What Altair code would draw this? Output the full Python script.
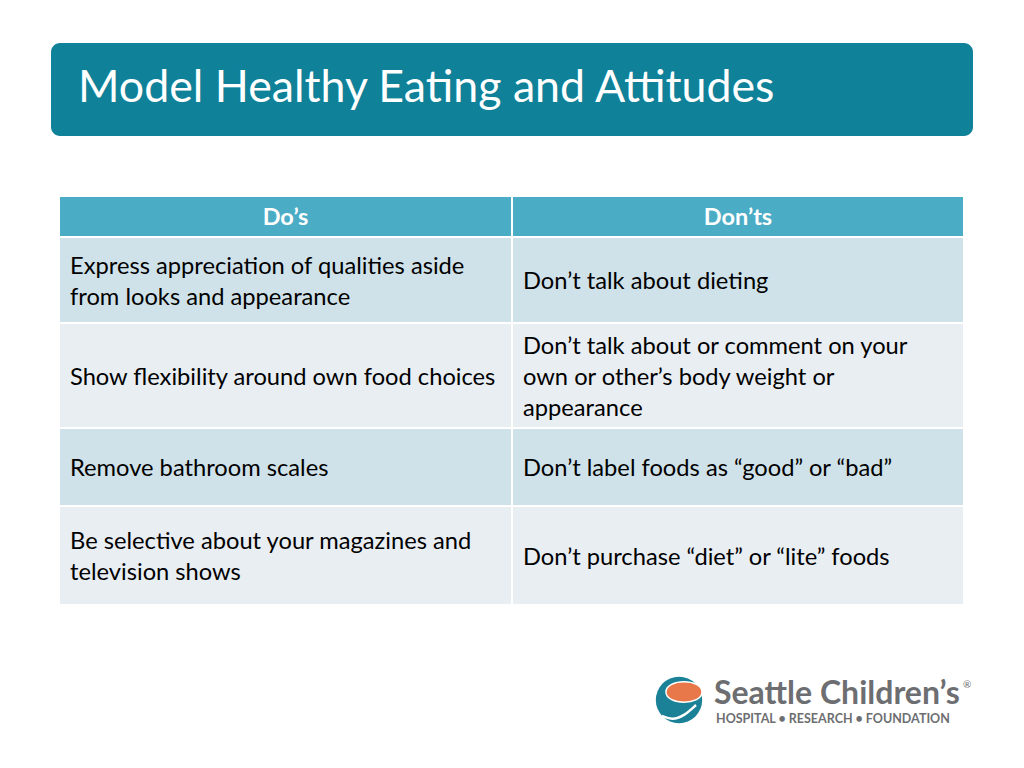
import altair as alt
import pandas as pd

# ---------------- content ----------------
title = "Model Healthy Eating and Attitudes"
headers = ["Do’s", "Don’ts"]
dos = [
    ["Express appreciation of qualities aside", "from looks and appearance"],
    ["Show flexibility around own food choices"],
    ["Remove bathroom scales"],
    ["Be selective about your magazines and", "television shows"],
]
donts = [
    ["Don’t talk about dieting"],
    ["Don’t talk about or comment on your", "own or other’s body weight or", "appearance"],
    ["Don’t label foods as “good” or “bad”"],
    ["Don’t purchase “diet” or “lite” foods"],
]
logo_name = "Seattle Children’s"
logo_tag = "HOSPITAL • RESEARCH • FOUNDATION"

# ---------------- layout (page pixels) ----------------
col_edges = [59, 512, 964]
row_edges = [196, 237, 323, 428, 506, 605]
text_pad = 11
line_h = 31
FONT = "Lato"

HEAD_C = "#4BACC6"
BAND = ["#D0E2E9", "#E9EEF3"]
TITLE_C = "#0F8199"
GRAY = "#6D6E71"

xs = alt.Scale(domain=[8, 1016], nice=False, zero=False)
ys = alt.Scale(domain=[760, 8], nice=False, zero=False)
X = lambda f: alt.X(f, type="quantitative", scale=xs, axis=None)
Y = lambda f: alt.Y(f, type="quantitative", scale=ys, axis=None)

# cells
cells = []
for c in range(2):
    cells.append(dict(x=col_edges[c], x2=col_edges[c + 1], y=row_edges[0], y2=row_edges[1], fill=HEAD_C))
    for r in range(4):
        cells.append(dict(x=col_edges[c], x2=col_edges[c + 1], y=row_edges[r + 1], y2=row_edges[r + 2],
                          fill=BAND[r % 2]))
cells_df = pd.DataFrame(cells)

cell_layer = alt.Chart(cells_df).mark_rect(stroke="white", strokeWidth=2).encode(
    x=X("x"), x2="x2", y=Y("y"), y2="y2",
    color=alt.Color("fill:N", scale=None),
)

# header text
head_df = pd.DataFrame(dict(
    label=headers,
    x=[(col_edges[0] + col_edges[1]) / 2, (col_edges[1] + col_edges[2]) / 2],
    y=[(row_edges[0] + row_edges[1]) / 2] * 2,
))
head_layer = alt.Chart(head_df).mark_text(
    font=FONT, fontSize=23.5, fontWeight="bold", color="white", align="center", baseline="middle", dy=1
).encode(x=X("x"), y=Y("y"), text="label:N")

# body text
rows = []
for c, col in enumerate([dos, donts]):
    for r, lines in enumerate(col):
        mid = (row_edges[r + 1] + row_edges[r + 2]) / 2
        n = len(lines)
        for i, ln in enumerate(lines):
            rows.append(dict(label=ln, x=col_edges[c] + text_pad,
                             y=mid + (i - (n - 1) / 2) * line_h))
body_df = pd.DataFrame(rows)
body_layer = alt.Chart(body_df).mark_text(
    font=FONT, fontSize=23.7, color="black", align="left", baseline="middle", dy=2
).encode(x=X("x"), y=Y("y"), text="label:N")

# title bar
bar_df = pd.DataFrame([dict(x=51, x2=973, y=43, y2=136)])
bar_layer = alt.Chart(bar_df).mark_rect(color=TITLE_C, cornerRadius=9).encode(
    x=X("x"), x2="x2", y=Y("y"), y2="y2")
title_df = pd.DataFrame([dict(label=title, x=78, y=102)])
title_layer = alt.Chart(title_df).mark_text(
    font=FONT, fontSize=44.7, color="white", align="left", baseline="alphabetic"
).encode(x=X("x"), y=Y("y"), text="label:N")

# logo
circ_df = pd.DataFrame([dict(x=679, y=700)])
circ_layer = alt.Chart(circ_df).mark_point(
    shape="circle", filled=True, size=2150, color="#1A8197", opacity=1
).encode(x=X("x"), y=Y("y"))
fish_df = pd.DataFrame([dict(x=684, y=692)])
fish_layer = alt.Chart(fish_df).mark_point(
    shape="M -1 0 C -1 -0.75 1 -0.75 1 0 C 1 0.75 -1 0.75 -1 0 Z",
    filled=True, size=1300, color="#E8784A", opacity=1, stroke="white", strokeWidth=1.5
).encode(x=X("x"), y=Y("y"))
wave_df = pd.DataFrame(dict(x=[662, 672, 684, 696], y=[716, 720, 716, 705]))
wave_layer = alt.Chart(wave_df).mark_line(
    color="white", strokeWidth=2.5, interpolate="basis"
).encode(x=X("x"), y=Y("y"))

name_df = pd.DataFrame([dict(label=logo_name, x=714, y=704)])
name_layer = alt.Chart(name_df).mark_text(
    font=FONT, fontSize=32, fontWeight="bold", color=GRAY, align="left", baseline="alphabetic"
).encode(x=X("x"), y=Y("y"), text="label:N")
reg_df = pd.DataFrame([dict(label="®", x=963, y=688)])
reg_layer = alt.Chart(reg_df).mark_text(
    font=FONT, fontSize=10, color=GRAY, align="left", baseline="alphabetic"
).encode(x=X("x"), y=Y("y"), text="label:N")
tag_df = pd.DataFrame([dict(label=logo_tag, x=716, y=723)])
tag_layer = alt.Chart(tag_df).mark_text(
    font=FONT, fontSize=12.5, fontWeight="bold", color=GRAY, align="left", baseline="alphabetic"
).encode(x=X("x"), y=Y("y"), text="label:N")

chart = alt.layer(
    bar_layer, title_layer, cell_layer, head_layer, body_layer,
    circ_layer, fish_layer, wave_layer, name_layer, reg_layer, tag_layer,
).properties(
    width=1008, height=752, padding=0, autosize=alt.AutoSizeParams(type="none"),
    background="white",
).configure_view(stroke=None)

chart.save("out.html", embed_options={"renderer": "svg", "actions": False})
